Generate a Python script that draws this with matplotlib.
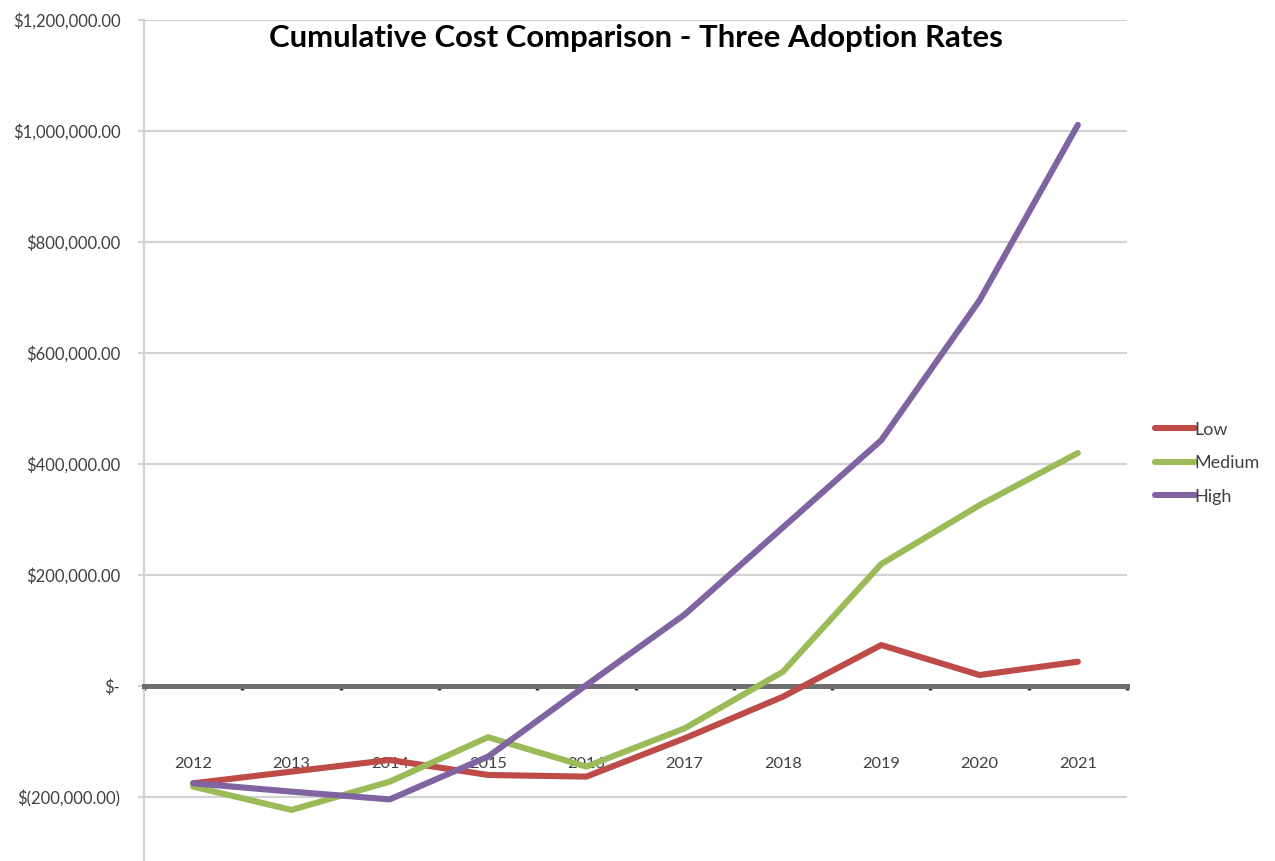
import numpy as np
import matplotlib.pyplot as plt
from matplotlib.ticker import FuncFormatter, FixedLocator

years = [2012, 2013, 2014, 2015, 2016, 2017, 2018, 2019, 2020, 2021]
low    = [-175000, -154000, -133000, -160000, -163000, -94000, -19000, 74000, 20000, 44000]
medium = [-181000, -223000, -172000, -92000, -145000, -76000, 26000, 220000, 326000, 420000]
high   = [-175000, -190000, -204000, -127000, 2000, 129000, 286000, 443000, 695000, 1011000]

series_names = ["Low", "Medium", "High"]
color_list = ['#BE4B48', '#9BBB59', '#8064A2']

fig_title = "Cumulative Cost Comparison - Three Adoption Rates"
font = "Lato"

fig = plt.figure(figsize=(12.75, 8.61), dpi=100)
ax = fig.add_axes([144/1275, 0.0, (1127-144)/1275, 1 - 20/861])

for vals, name, c in zip([low, medium, high], series_names, color_list):
    ax.plot(years, vals, color=c, lw=4.4, label=name, zorder=5,
            solid_joinstyle='round', solid_capstyle='round')

def money(v, pos):
    if abs(v) < 1:
        return "$-"
    if v < 0:
        return "$(" + format(-v, ",.2f") + ")"
    return "$" + format(v, ",.2f")

ax.set_xlim(2011.5, 2021.5)
ax.set_ylim(-315000, 1200000)
ax.yaxis.set_major_locator(FixedLocator(np.arange(-200000, 1200001, 200000)))
ax.yaxis.set_major_formatter(FuncFormatter(money))
ax.grid(True, axis='y', color='#d3d3d3', lw=1.6)
ax.set_axisbelow(True)

for s in ['top', 'right']:
    ax.spines[s].set_visible(False)
ax.spines['left'].set_color('#d3d3d3')
ax.spines['left'].set_linewidth(1.6)
ax.spines['bottom'].set_position(('data', 0))
ax.spines['bottom'].set_color('#6e6e6e')
ax.spines['bottom'].set_linewidth(3.6)
ax.spines['bottom'].set_zorder(3)

ax.tick_params(axis='y', length=4, color='#d3d3d3', width=1.6, pad=13,
               labelsize=12, labelcolor='#404040')
for lbl in ax.get_yticklabels():
    lbl.set_family(font)

# category boundaries as major ticks, year labels as minor ticks
ax.xaxis.set_major_locator(FixedLocator(np.arange(2011.5, 2022, 1)))
ax.xaxis.set_minor_locator(FixedLocator(years))
ax.xaxis.set_major_formatter(FuncFormatter(lambda v, p: ""))
ax.xaxis.set_minor_formatter(FuncFormatter(lambda v, p: str(int(round(v)))))
ax.tick_params(axis='x', which='major', length=3, width=2.5, color='#303030', direction='out')
ax.tick_params(axis='x', which='minor', length=0, pad=51, labelsize=11.8, labelcolor='#404040')
for lbl in ax.get_xticklabels(minor=True):
    lbl.set_family(font)

fig.text(636/1275, 1 - 38/861, fig_title, ha='center', va='center',
         fontsize=22.4, fontweight='bold', family=font, color='black')

leg = ax.legend(loc='center left', bbox_to_anchor=(1.012, 0.473), frameon=False,
                prop={'family': font, 'size': 13}, handlelength=2.2,
                handletextpad=0.0, labelspacing=0.97)
for t in leg.get_texts():
    t.set_color('#404040')

plt.savefig('out.png', dpi=100)
